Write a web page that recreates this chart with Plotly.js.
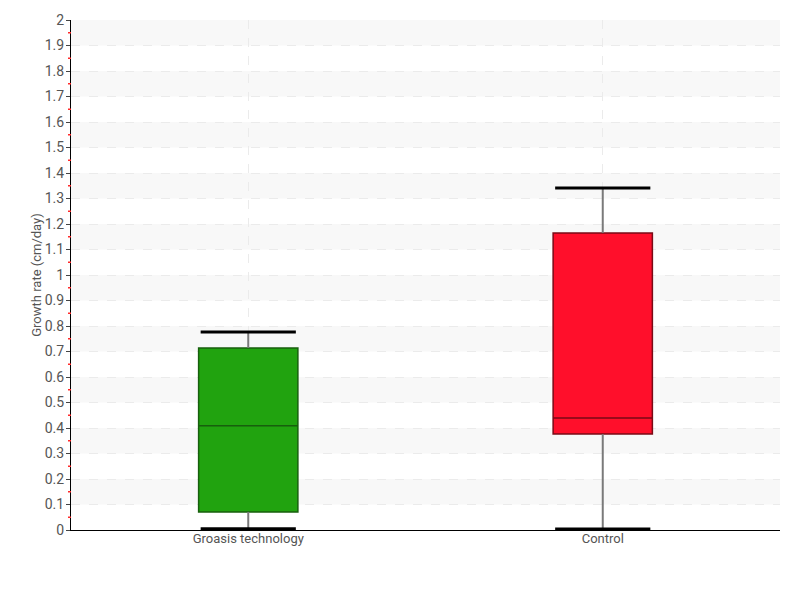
<!DOCTYPE html>
<html>
<head>
<meta charset="utf-8">
<script src="https://cdn.plot.ly/plotly-3.0.1.min.js"></script>
<style>html,body{margin:0;padding:0;background:#fff;}</style>
</head>
<body>
<div id="chart" style="width:800px;height:600px;"></div>
<script>
const categories = ["Groasis technology", "Control"];
const lowerFence = [0.005, 0.004];
const q1 = [0.071, 0.376];
const median = [0.409, 0.439];
const q3 = [0.714, 1.165];
const upperFence = [0.776, 1.341];
const fillColors = ["#21a30f", "#ff0f2b"];
const lineColors = ["#175f0d", "#7a0a16"];

const FONT = "Roboto, sans-serif";

const traces = [];
categories.forEach((c, i) => {
  traces.push({
    type: "scatter", mode: "lines", x: [c, c], y: [q3[i], upperFence[i]],
    line: {color: "#7a7a7a", width: 2}, hoverinfo: "skip", showlegend: false
  });
  traces.push({
    type: "scatter", mode: "lines", x: [c, c], y: [lowerFence[i], q1[i]],
    line: {color: "#7a7a7a", width: 2}, hoverinfo: "skip", showlegend: false
  });
  traces.push({
    type: "scatter", mode: "markers", x: [c, c], y: [lowerFence[i], upperFence[i]],
    marker: {symbol: "line-ew", size: 68, line: {color: "#000", width: 3}},
    hoverinfo: "skip", showlegend: false
  });
  traces.push({
    type: "box", name: c, x: [c],
    q1: [q1[i]], median: [median[i]], q3: [q3[i]],
    lowerfence: [q1[i]], upperfence: [q3[i]],
    fillcolor: fillColors[i], line: {color: lineColors[i], width: 1.5},
    width: 0.28, whiskerwidth: 0, showlegend: false
  });
});

const shapes = [];
for (let b = 0.1; b < 2; b += 0.2) {
  shapes.push({type: "rect", xref: "paper", yref: "y", x0: 0, x1: 1, y0: b, y1: b + 0.1,
    fillcolor: "#f8f8f8", line: {width: 0}, layer: "below"});
}
for (let k = 0; k < 20; k++) {
  const v = 0.05 + k * 0.1;
  shapes.push({type: "line", xref: "paper", yref: "y", x0: -3 / 709, x1: 0, y0: v, y1: v,
    line: {color: "#ff2a2a", width: 1.5}});
}

const layout = {
  width: 800, height: 600,
  margin: {l: 71, r: 20, t: 20, b: 70},
  paper_bgcolor: "#fff", plot_bgcolor: "#fff",
  font: {family: FONT, size: 13, color: "#555"},
  boxmode: "overlay",
  showlegend: false,
  shapes: shapes,
  xaxis: {
    type: "category", range: [-0.5, 1.5],
    showline: true, linecolor: "#000", linewidth: 1,
    ticks: "", showgrid: true, gridcolor: "#ebebeb", griddash: "dash", gridwidth: 1,
    tickfont: {family: FONT, size: 13, color: "#555"}, zeroline: false,
    ticklabelstandoff: -4
  },
  yaxis: {
    range: [0, 2], dtick: 0.1, tick0: 0,
    showline: true, linecolor: "#000", linewidth: 1,
    ticks: "outside", ticklen: 4, tickcolor: "#444", tickwidth: 1,
    showgrid: true, gridcolor: "#ebebeb", griddash: "dash", gridwidth: 1,
    zeroline: false,
    tickfont: {family: FONT, size: 14, color: "#555"},
    ticklabelstandoff: -1,
    title: {text: "Growth rate (cm/day)", font: {family: FONT, size: 13, color: "#555"}, standoff: 0}
  }
};

Plotly.newPlot("chart", traces, layout, {displayModeBar: false, staticPlot: true});
</script>
</body>
</html>
